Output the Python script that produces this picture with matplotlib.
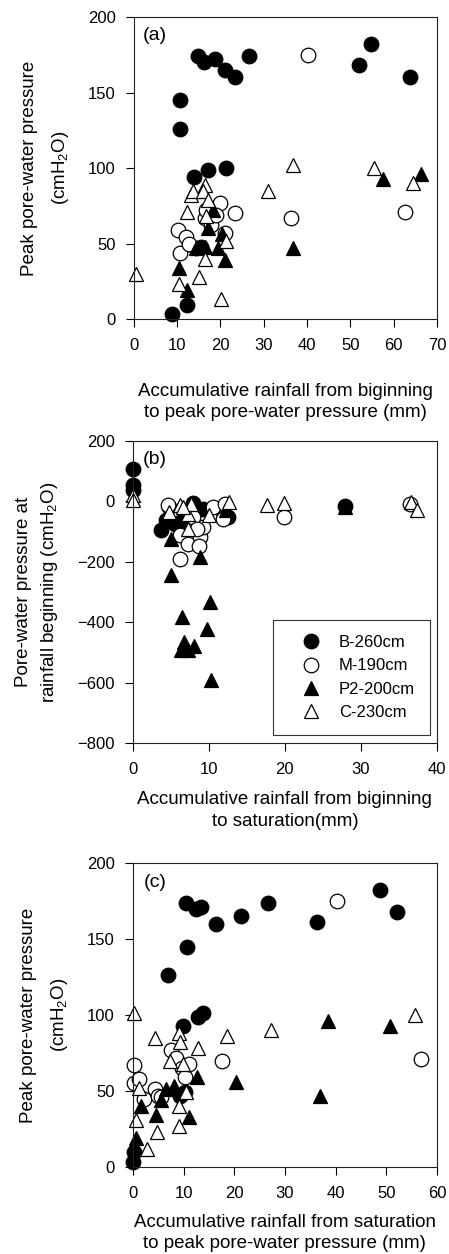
import matplotlib.pyplot as plt
import numpy as np

plt.rcParams['font.family'] = ['Liberation Sans', 'DejaVu Sans']
plt.rcParams['mathtext.fontset'] = 'custom'
plt.rcParams['mathtext.rm'] = 'Liberation Sans'

# ---- panel (a): rainfall from beginning to peak vs peak pressure
a_B_x = [8.9, 12.3, 10.6, 10.6, 14.8, 16.1, 18.7, 21.0, 23.3, 26.6, 14.0, 17.1, 21.2, 14.4, 15.5, 51.9, 54.9, 63.8]
a_B_y = [3.5, 9, 145, 126, 174, 170, 172, 165, 160, 174, 94, 99, 100, 47, 48, 168, 182, 160]
a_M_x = [10.2, 10.6, 12.1, 12.7, 19.8, 23.3, 16.4, 17.9, 19.0, 21.0, 16.6, 40.3, 36.4, 62.7]
a_M_y = [59, 44, 54, 50, 77, 70, 67, 62, 69, 57, 72, 175, 67, 71]
a_P_x = [10.4, 12.3, 36.8, 57.6, 66.4, 14.3, 17.1, 18.3, 19.4, 20.4, 21.0, 16.4]
a_P_y = [34, 19, 47, 93, 96, 47, 60, 72, 47, 56, 39, 48]
a_C_x = [0.5, 10.4, 15.0, 20.1, 12.3, 13.3, 13.7, 16.4, 16.0, 17.1, 16.7, 16.4, 21.2, 30.9, 36.8, 55.5, 64.4]
a_C_y = [30, 23, 28, 13, 71, 82, 85, 89, 85, 79, 68, 40, 52, 85, 102, 100, 90]

# ---- panel (b): rainfall from beginning to saturation vs initial pressure
b_B_x = [0, 0, 0, 3.7, 4.4, 5.5, 6.2, 7.9, 9.2, 12.5, 27.9, 11.9, 4.8]
b_B_y = [108, 53, 37, -96, -63, -74, -68, -4, -24, -52, -16, -35, -19]
b_M_x = [4.6, 6.2, 6.2, 7.3, 8.8, 9.2, 8.7, 7.9, 10.5, 11.9, 12.1, 19.9, 36.5, 8.4]
b_M_y = [-13, -112, -190, -140, -118, -85, -147, -52, -19, -57, -8, -52, -7, -90]
b_P_x = [4.96, 4.96, 6.4, 6.7, 7.3, 6.3, 8.0, 9.8, 10.1, 10.3, 8.8, 27.9, 12.2]
b_P_y = [-123, -245, -383, -466, -493, -493, -480, -421, -333, -592, -184, -18, -30]
b_C_x = [0, 0, 4.8, 6.2, 7.2, 7.7, 7.2, 10.0, 12.7, 17.6, 19.9, 36.6, 37.4, 6.6]
b_C_y = [20, 4, -35, -13, -41, -7, -90, -46, -2, -13, -5, -2, -27, -18]

# ---- panel (c): rainfall from saturation to peak vs peak pressure
c_B_x = [0, 0.2, 6.9, 10.5, 12.4, 13.5, 10.7, 16.5, 21.3, 26.7, 36.3, 48.8, 52.1, 9.9, 12.9, 13.8, 10.2, 9.2]
c_B_y = [3, 10, 126, 174, 170, 171, 145, 160, 165, 174, 161, 182, 168, 93, 99, 101, 49, 47]
c_M_x = [0.2, 0.2, 1.3, 2.1, 4.3, 4.9, 5.6, 7.6, 8.6, 9.6, 10.2, 11.0, 17.5, 40.2, 56.9]
c_M_y = [67, 55, 58, 45, 51, 47, 46, 77, 72, 65, 59, 68, 70, 175, 71]
c_P_x = [0.7, 1.5, 4.5, 6.6, 8.2, 11.0, 12.7, 20.4, 37.0, 38.6, 50.8, 5.6]
c_P_y = [19, 40, 34, 51, 53, 33, 59, 56, 47, 96, 93, 44]
c_C_x = [0.3, 0.7, 1.3, 2.8, 4.8, 4.3, 9.1, 9.1, 7.3, 9.1, 9.2, 9.9, 10.4, 12.9, 18.5, 27.2, 55.7]
c_C_y = [101, 31, 52, 12, 23, 85, 27, 40, 70, 88, 82, 68, 49, 78, 86, 90, 100]

labels = ['B-260cm', 'M-190cm', 'P2-200cm', 'C-230cm']
styles = [dict(marker='o', mfc='black'), dict(marker='o', mfc='white'),
          dict(marker='^', mfc='black'), dict(marker='^', mfc='white')]

fig = plt.figure(figsize=(4.49, 12.54), dpi=100)
ax_a = fig.add_axes([0.298, 0.7456, 0.675, 0.2408])
ax_b = fig.add_axes([0.296, 0.4075, 0.677, 0.2408])
ax_c = fig.add_axes([0.296, 0.0694, 0.677, 0.2424])

panels = [
    (ax_a, [(a_B_x, a_B_y), (a_M_x, a_M_y), (a_P_x, a_P_y), (a_C_x, a_C_y)]),
    (ax_b, [(b_B_x, b_B_y), (b_M_x, b_M_y), (b_P_x, b_P_y), (b_C_x, b_C_y)]),
    (ax_c, [(c_B_x, c_B_y), (c_M_x, c_M_y), (c_P_x, c_P_y), (c_C_x, c_C_y)]),
]

for ax, series in panels:
    for (x, y), st, lab in zip(series, styles, labels):
        ax.plot(x, y, ls='none', ms=10.5, mec='black', mew=0.9,
                label=lab, clip_on=False, **st)
    ax.tick_params(direction='out', length=5.5, width=0.8, labelsize=12,
                   top=False, right=False)
    ax.tick_params(axis='x', pad=8.5)
    ax.tick_params(axis='y', pad=7.5)
    for sp in ax.spines.values():
        sp.set_linewidth(0.8)
        sp.set_color('#222222')

ax_a.set_xlim(0, 70)
ax_a.set_ylim(0, 200)
ax_a.set_xticks(np.arange(0, 71, 10))
ax_a.set_yticks(np.arange(0, 201, 50))
ax_a.set_xlabel('Accumulative rainfall from biginning\nto peak pore-water pressure (mm)',
                fontsize=13.5, labelpad=21, linespacing=1.35)
ax_a.set_ylabel('Peak pore-water pressure\n(cmH$_2$O)', fontsize=13.5,
                labelpad=12.5, linespacing=1.8)
ax_a.text(0.03, 0.94, '(a)', transform=ax_a.transAxes, fontsize=14, va='center')

ax_b.set_xlim(0, 40)
ax_b.set_ylim(-800, 200)
ax_b.set_xticks(np.arange(0, 41, 10))
ax_b.set_yticks(np.arange(-800, 201, 200))
ax_b.set_xlabel('Accumulative rainfall from biginning\nto saturation(mm)',
                fontsize=13.5, labelpad=10, linespacing=1.35)
ax_b.set_ylabel('Pore-water pressure at\nrainfall beginning (cmH$_2$O)', fontsize=13.5,
                labelpad=12.5, linespacing=1.45)
ax_b.text(0.033, 0.94, '(b)', transform=ax_b.transAxes, fontsize=14, va='center')
leg = ax_b.legend(loc='lower right', bbox_to_anchor=(0.977, 0.026), fontsize=12,
                  frameon=True, fancybox=False, edgecolor='black',
                  handlelength=2.8, handletextpad=0.25, borderpad=0.9,
                  labelspacing=0.5, borderaxespad=0)
leg.get_frame().set_linewidth(0.8)

ax_c.set_xlim(0, 60)
ax_c.set_ylim(0, 200)
ax_c.set_xticks(np.arange(0, 61, 10))
ax_c.set_yticks(np.arange(0, 201, 50))
ax_c.set_xlabel('Accumulative rainfall from saturation\nto peak pore-water pressure (mm)',
                fontsize=13.5, labelpad=9, linespacing=1.35)
ax_c.set_ylabel('Peak pore-water pressure\n(cmH$_2$O)', fontsize=13.5,
                labelpad=12.5, linespacing=1.8)
ax_c.text(0.036, 0.935, '(c)', transform=ax_c.transAxes, fontsize=14, va='center')

fig.savefig('out.png', dpi=100)
